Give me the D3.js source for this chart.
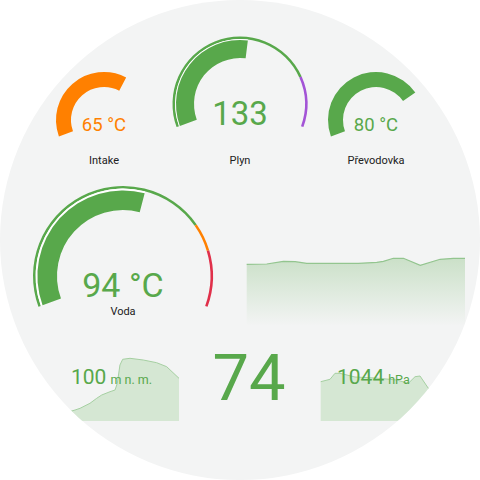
<!DOCTYPE html>
<html lang="cs">
<head>
<meta charset="UTF-8">
<title>Dashboard gauges</title>
<script src="https://cdn.jsdelivr.net/npm/d3@7"></script>
<style>
  html, body { margin: 0; padding: 0; background: #ffffff; }
  svg { display: block; font-family: Roboto, 'Noto Sans', sans-serif; }
</style>
</head>
<body>
<script>
// --- data ---------------------------------------------------------------
var gaugeNames  = ['Intake', 'Plyn', 'Převodovka', 'Voda'];
var gaugeValues = [65, 133, 80, 94];
var gaugeUnits  = [' °C', '', ' °C', ' °C'];
var gaugeMin    = [20, 0, 20, 60];
var gaugeMax    = [92, 250, 100, 120];
var gaugeColors = ['#ff8000', '#58a84b', '#58a84b', '#58a84b'];
// severity segments [from, to, colour] (only the gauges that show a ring)
var plynLevels = [[0, 200, '#58a84b'], [200, 250, '#a354d6']];
var vodaLevels = [[60, 105, '#58a84b'], [105, 110, '#ff8000'], [110, 120, '#e0304a']];

// sparkline: outside temperature card (x = time %, y = value)
var tempX = [0, 9.2, 16.8, 22.2, 27.5, 51.2, 59.6, 62.6, 67.2, 71.8, 79.5, 88.6, 94.7, 100];
var tempY = [5.7, 6, 8.7, 8.3, 6.7, 6.7, 7.7, 8.7, 11.7, 11.7, 4.7, 10.7, 11.7, 11.7];
// altitude card
var altValue = 100, altUnit = 'm n. m.';
var altX = [0, 8.8, 13.2, 21.9, 27.8, 32.2, 39.5, 43.9, 45.9, 48.2, 50.6, 57.0, 68.7, 80.4, 89.2, 100];
var altY = [8, 11, 12.7, 17.7, 22.7, 26, 29.3, 31, 37.7, 56, 61.7, 62.7, 61, 58.3, 54.3, 42.7];
// pressure card
var presValue = 1044, presUnit = 'hPa';
var presX = [0, 7.5, 11.5, 15.5, 27.6, 43.7, 55.7, 61.1, 70.5, 75.9, 79.9, 86.6, 100];
var presY = [39.3, 41.7, 47.7, 47.7, 44, 43, 41.7, 41, 37.7, 44.3, 45, 32.7, 26];
// big number
var bigValue = 74;

var green = '#58a84b';
var W = 480, H = 480;
var deg = Math.PI / 180;

var svg = d3.select('body').append('svg')
    .attr('width', W)
    .attr('height', H);

var defs = svg.append('defs');
defs.append('clipPath').attr('id', 'round')
  .append('circle').attr('cx', 240).attr('cy', 240).attr('r', 240);

var grad = defs.append('linearGradient').attr('id', 'fade')
    .attr('x1', 0).attr('y1', 0).attr('x2', 0).attr('y2', 1);
grad.append('stop').attr('offset', '0%').attr('stop-color', green).attr('stop-opacity', 0.26);
grad.append('stop').attr('offset', '100%').attr('stop-color', green).attr('stop-opacity', 0);

var root = svg.append('g').attr('clip-path', 'url(#round)');
root.append('rect').attr('width', W).attr('height', H).attr('fill', '#f3f4f4');

// --- gauges ---------------------------------------------------------------
function gauge(i, cx, cy, rOut, barIn, barOut, levels, valueSize, valueY, labelY) {
    var g = root.append('g').attr('transform', 'translate(' + cx + ',' + cy + ')');
    var ang = d3.scaleLinear().domain([gaugeMin[i], gaugeMax[i]]).range([-110 * deg, 110 * deg]);
    var arc = d3.arc();
    var col = gaugeColors[i];

    if (levels) {
        g.selectAll('path.level').data(levels).enter().append('path')
            .attr('class', 'level')
            .attr('fill', d => d[2])
            .attr('d', d => arc({innerRadius: rOut - 2.6, outerRadius: rOut,
                                 startAngle: ang(d[0]), endAngle: ang(d[1])}));
        // thin white separator along the value bar
        g.append('path').attr('fill', '#ffffff')
            .attr('d', arc({innerRadius: barOut, outerRadius: rOut - 2.6,
                            startAngle: ang(gaugeMin[i]), endAngle: ang(gaugeValues[i])}));
    }
    g.append('path').attr('fill', col)
        .attr('d', arc({innerRadius: barIn, outerRadius: barOut,
                        startAngle: ang(gaugeMin[i]), endAngle: ang(gaugeValues[i])}));

    g.append('text')
        .attr('x', 0).attr('y', valueY)
        .attr('text-anchor', 'middle')
        .attr('fill', col)
        .style('font-size', valueSize + 'px')
        .text(gaugeValues[i] + gaugeUnits[i]);

    g.append('text')
        .attr('x', 0).attr('y', labelY)
        .attr('text-anchor', 'middle')
        .attr('fill', '#212121')
        .style('font-size', '11px')
        .text(gaugeNames[i]);
}

gauge(0, 104, 120, 48, 33, 48, null, 18.5, 11, 44);
gauge(1, 240, 104, 67.5, 46, 64, plynLevels, 33, 21, 60);
gauge(2, 376, 120, 48, 33, 48, null, 18.5, 11, 44);
gauge(3, 123, 276, 90, 66, 85.6, vodaLevels, 34, 21, 39);

// --- sparklines ------------------------------------------------------------
// outside temperature, faded area
var tx = d3.scaleLinear().domain([0, 100]).range([246.7, 465]);
var ty = d3.scaleLinear().domain([0, 20]).range([270, 250]);
var tempData = d3.zip(tempX, tempY);
root.append('path').datum(tempData)
    .attr('fill', 'url(#fade)')
    .attr('d', d3.area().x(d => tx(d[0])).y0(326).y1(d => ty(d[1])));
root.append('path').datum(tempData)
    .attr('fill', 'none').attr('stroke', '#93c58f').attr('stroke-width', 1.2)
    .attr('d', d3.line().x(d => tx(d[0])).y(d => ty(d[1])));

function sparkCard(xs, ys, x0, x1, value, unit, textX) {
    var sx = d3.scaleLinear().domain([0, 100]).range([x0, x1]);
    var sy = d3.scaleLinear().domain([0, 70]).range([421, 351]);
    var data = d3.zip(xs, ys);
    root.append('path').datum(data)
        .attr('fill', '#d5e7d3')
        .attr('d', d3.area().x(d => sx(d[0])).y0(421).y1(d => sy(d[1])));
    root.append('path').datum(data)
        .attr('fill', 'none').attr('stroke', '#a5cfa1').attr('stroke-width', 1)
        .attr('d', d3.line().x(d => sx(d[0])).y(d => sy(d[1])));
    var t = root.append('text')
        .attr('x', textX).attr('y', 384)
        .attr('fill', green);
    t.append('tspan').style('font-size', '21px').text(value);
    t.append('tspan').attr('dx', 4).style('font-size', '12.5px').text(unit);
}
sparkCard(altX, altY, 65, 179, altValue, altUnit, 71);
sparkCard(presX, presY, 320.7, 445, presValue, presUnit, 337);

// big number
root.append('text')
    .attr('x', 249).attr('y', 400)
    .attr('text-anchor', 'middle')
    .attr('fill', green)
    .style('font-size', '65px')
    .text(bigValue);
</script>
</body>
</html>
